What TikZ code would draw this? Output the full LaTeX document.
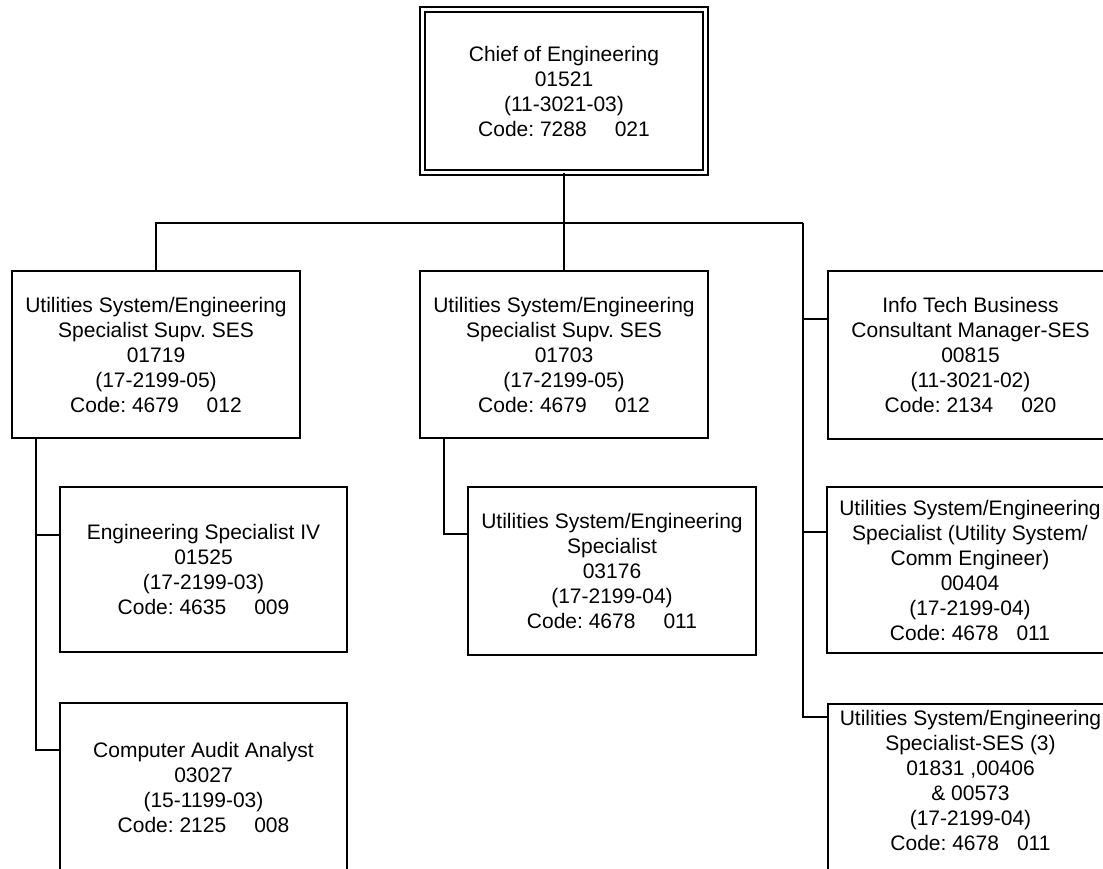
\documentclass[tikz,border=0pt]{standalone}
\usepackage{fontspec}
\setmainfont{Liberation Sans}
\frenchspacing
\newcommand{\codegap}{\hspace{28pt}}
\newcommand{\codegapshort}{\hspace{18pt}}
\begin{document}
\begin{tikzpicture}[x=1pt,y=-1pt,
  post/.style={draw=black, line width=1.8pt, rectangle, align=center,
    outer sep=0pt, inner sep=0pt, fill=white,
    font=\fontsize{21}{25}\selectfont},
  chief/.style={post, double, double distance=3.4pt, line width=1.6pt},
  link/.style={draw=black, line width=1.8pt}]
\useasboundingbox (0,0) rectangle (1103,868);
\fill[white] (0,0) rectangle (1103,868);
\clip (0,0) rectangle (1103,868);

% head of the section
\node[chief, minimum width=283pt, minimum height=163pt] (top) at (564,91)
  {Chief of Engineering\\01521\\(11-3021-03)\\Code: 7288\codegap 021};

% first level
\node[post, minimum width=288pt, minimum height=167pt] (l1) at (156,354.5)
  {Utilities System/Engineering\\Specialist Supv. SES\\01719\\(17-2199-05)\\Code: 4679\codegap 012};
\node[post, minimum width=288pt, minimum height=167pt] (m1) at (564,354.5)
  {Utilities System/Engineering\\Specialist Supv. SES\\01703\\(17-2199-05)\\Code: 4679\codegap 012};
\node[post, minimum width=285pt, minimum height=168pt] (r1) at (970.5,355)
  {Info Tech Business\\Consultant Manager-SES\\00815\\(11-3021-02)\\Code: 2134\codegap 020};

% second level
\node[post, minimum width=287pt, minimum height=165pt] (l2) at (203.5,569.5)
  {Engineering Specialist IV\\01525\\(17-2199-03)\\Code: 4635\codegap 009};
\node[post, minimum width=287pt, minimum height=168pt] (l3) at (203.5,787)
  {Computer Audit Analyst\\03027\\(15-1199-03)\\Code: 2125\codegap 008};
\node[post, minimum width=288pt, minimum height=168pt] (m2) at (612,571)
  {Utilities System/Engineering\\Specialist\\03176\\(17-2199-04)\\Code: 4678\codegap 011};
\node[post, minimum width=286pt, minimum height=166pt] (r2) at (970,570)
  {Utilities System/Engineering\\Specialist (Utility System/\\Comm Engineer)\\00404\\(17-2199-04)\\Code: 4678\codegapshort 011};
\node[post, minimum width=285pt, minimum height=178pt] (r3) at (970.5,793)
  {Utilities System/Engineering\\Specialist-SES (3)\\01831 ,00406\\\& 00573\\(17-2199-04)\\Code: 4678\codegapshort 011\\\mbox{}};

% reporting lines
\coordinate (bus) at (564,223);
\coordinate (rtop) at (803,223);
\draw[link] (top.south) -- (m1.north);
\draw[link] (l1.north) |- (bus) -- (rtop);
\draw[link] (rtop) |- (r1.west |- 0,319);
\draw[link] (rtop) |- (r2.west |- 0,532);
\draw[link] (rtop) |- (r3.west |- 0,717);
\draw[link] (l1.south -| 36,0) |- (l2.west |- 0,535);
\draw[link] (l1.south -| 36,0) |- (l3.west |- 0,750);
\draw[link] (m1.south -| 444,0) |- (m2.west |- 0,534);
\end{tikzpicture}
\end{document}
